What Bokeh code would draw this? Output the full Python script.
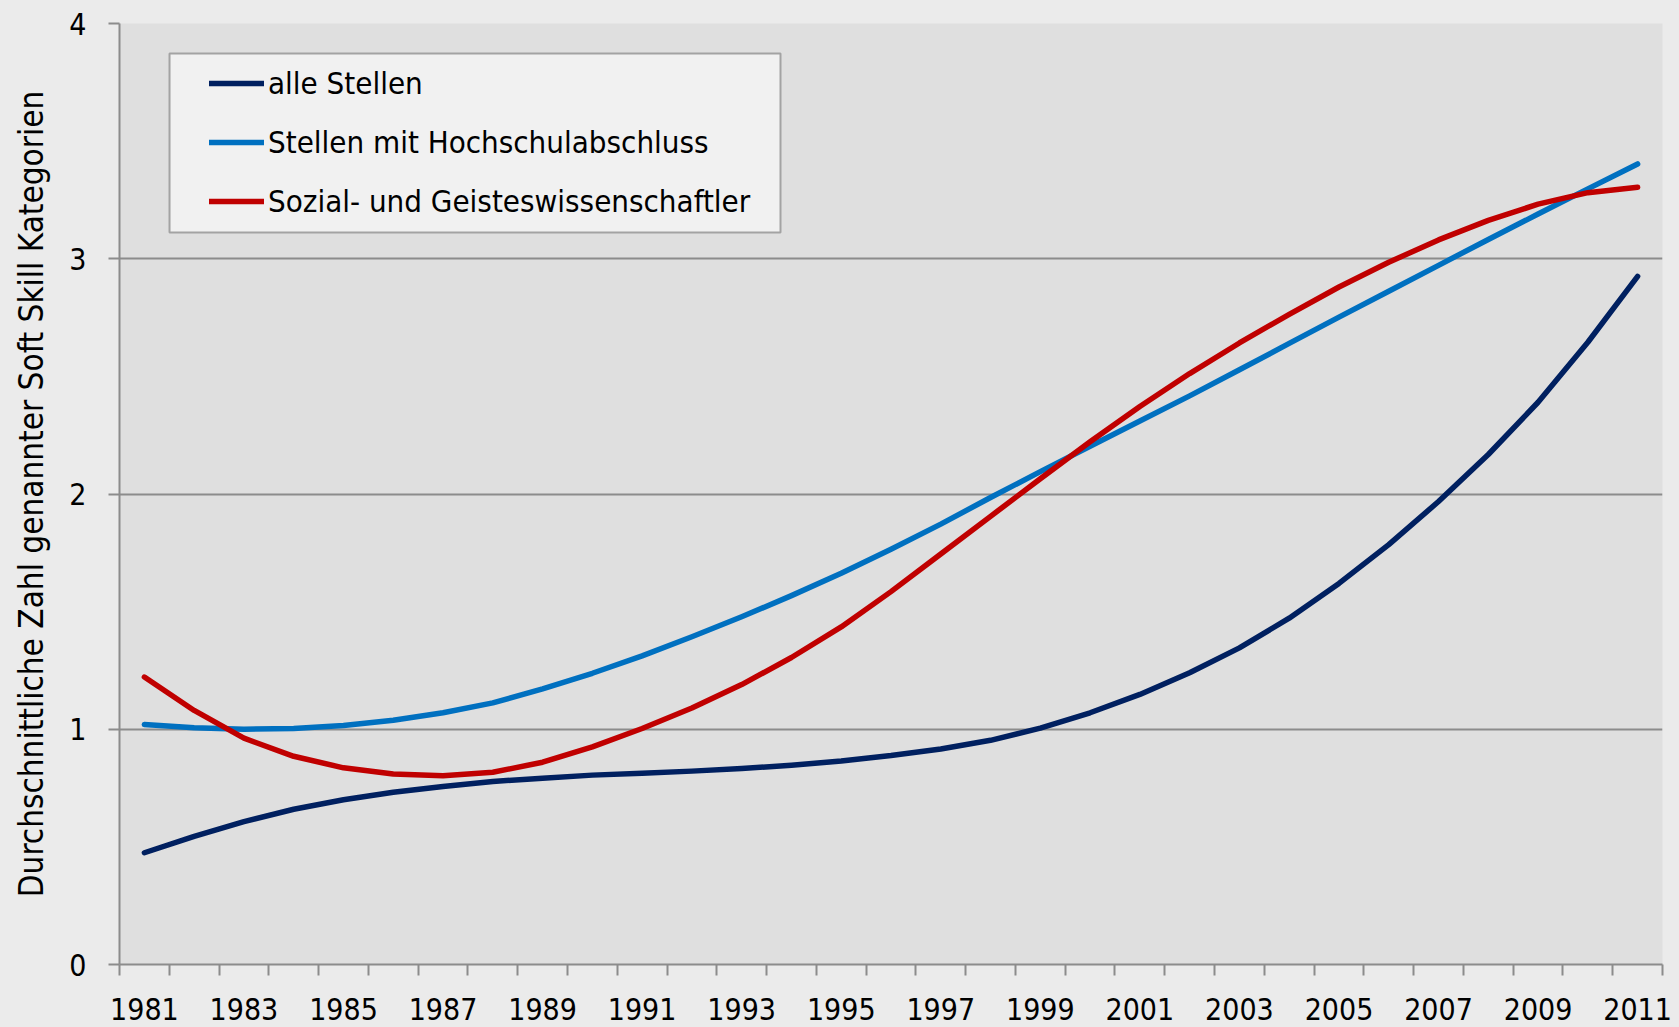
from bokeh.plotting import figure
from bokeh.models import (Range1d, FixedTicker, Legend, LegendItem, BoxAnnotation,
                          GlobalInlineStyleSheet)
from bokeh.embed import file_html
from bokeh.resources import INLINE

# ---------------- data ----------------
years = list(range(1981, 2012))
alle_stellen = [0.475, 0.545, 0.607, 0.660, 0.700, 0.732, 0.757, 0.778, 0.792, 0.805,
                0.813, 0.822, 0.833, 0.847, 0.865, 0.888, 0.916, 0.953, 1.005, 1.070,
                1.148, 1.240, 1.346, 1.472, 1.620, 1.785, 1.968, 2.168, 2.390, 2.645, 2.925]
hochschule = [1.020, 1.006, 1.000, 1.003, 1.016, 1.038, 1.070, 1.112, 1.172, 1.238,
              1.312, 1.393, 1.478, 1.568, 1.663, 1.765, 1.872, 1.985, 2.095, 2.203,
              2.310, 2.417, 2.528, 2.640, 2.752, 2.862, 2.972, 3.082, 3.190, 3.297, 3.403]
sozial = [1.222, 1.080, 0.962, 0.885, 0.836, 0.810, 0.802, 0.817, 0.860, 0.925,
          1.003, 1.090, 1.190, 1.305, 1.435, 1.585, 1.745, 1.905, 2.065, 2.222,
          2.372, 2.512, 2.642, 2.764, 2.880, 2.985, 3.080, 3.163, 3.232, 3.281, 3.304]
series_names = ["alle Stellen", "Stellen mit Hochschulabschluss",
                "Sozial- und Geisteswissenschaftler"]
x_tick_years = list(range(1981, 2012, 2))
x_tick_labels = [str(y) for y in x_tick_years]
y_ticks = [0, 1, 2, 3, 4]
y_label = "Durchschnittliche Zahl genannter Soft Skill Kategorien"

# ---------------- styling ----------------
FONT = "'DejaVu Sans Condensed', Roboto, sans-serif"
GRAY = "#8c8c8c"
colors = ["#002060", "#0070C0", "#C00000"]

p = figure(width=1679, height=1027, output_backend="svg", toolbar_location=None,
           x_range=Range1d(years[0] - 0.5, years[-1] + 0.5), y_range=Range1d(0, 4),
           min_border_left=119, min_border_right=17, min_border_top=23,
           min_border_bottom=63)
p.stylesheets = [GlobalInlineStyleSheet(
    css="html, body { margin: 0 !important; padding: 0; background: #ebebeb; overflow: hidden; }")]
p.background_fill_color = "#dfdfdf"
p.border_fill_color = "#ebebeb"
p.outline_line_color = None
p.xgrid.visible = False

# x axis: labels at every other year, ticks at year boundaries
xa = p.xaxis[0]
xa.ticker = FixedTicker(ticks=x_tick_years,
                        minor_ticks=[y - 0.5 for y in years] + [years[-1] + 0.5])
xa.major_label_overrides = dict(zip(x_tick_years, x_tick_labels))
xa.major_tick_out = 0
xa.major_tick_in = 0
xa.minor_tick_out = 11
xa.minor_tick_in = 0
xa.minor_tick_line_color = GRAY
xa.minor_tick_line_width = 2
xa.axis_line_color = GRAY
xa.axis_line_width = 2
xa.major_label_text_font = FONT
xa.major_label_text_font_size = "30px"
xa.major_label_text_color = "black"
xa.major_label_standoff = 22

ya = p.yaxis[0]
ya.ticker = FixedTicker(ticks=y_ticks, minor_ticks=[])
ya.major_tick_out = 11
ya.major_tick_in = 0
ya.minor_tick_out = 0
ya.minor_tick_in = 0
ya.major_tick_line_color = GRAY
ya.major_tick_line_width = 2
ya.axis_line_color = GRAY
ya.axis_line_width = 2
ya.major_label_text_font = FONT
ya.major_label_text_font_size = "30px"
ya.major_label_text_color = "black"
ya.major_label_standoff = 22
ya.axis_label = y_label
ya.axis_label_text_font = FONT
ya.axis_label_text_font_size = "33px"
ya.axis_label_text_font_style = "normal"
ya.axis_label_text_color = "black"
ya.axis_label_standoff = 15

p.ygrid.grid_line_color = GRAY
p.ygrid.grid_line_width = 2

renderers = []
for vals, c in zip([alle_stellen, hochschule, sozial], colors):
    r = p.line(years, vals, line_color=c, line_width=5.5, line_cap="round",
               line_join="round")
    renderers.append(r)

# legend frame
box = BoxAnnotation(left=1981.505, right=1993.78, top=3.8725, bottom=3.1116,
                    fill_color="#f1f1f1", fill_alpha=1, line_color="#a3a3a3",
                    line_width=2, line_alpha=1)
p.add_layout(box)

legend = Legend(items=[LegendItem(label=n, renderers=[r])
                       for n, r in zip(series_names, renderers)],
                location=(90, 743), padding=10, spacing=19, margin=0,
                glyph_width=55, glyph_height=40, label_height=40, label_standoff=4,
                label_text_font=FONT, label_text_font_size="31px",
                label_text_color="black",
                background_fill_alpha=0, border_line_color=None)
p.add_layout(legend)

open("out.html", "w").write(file_html(p, INLINE))
